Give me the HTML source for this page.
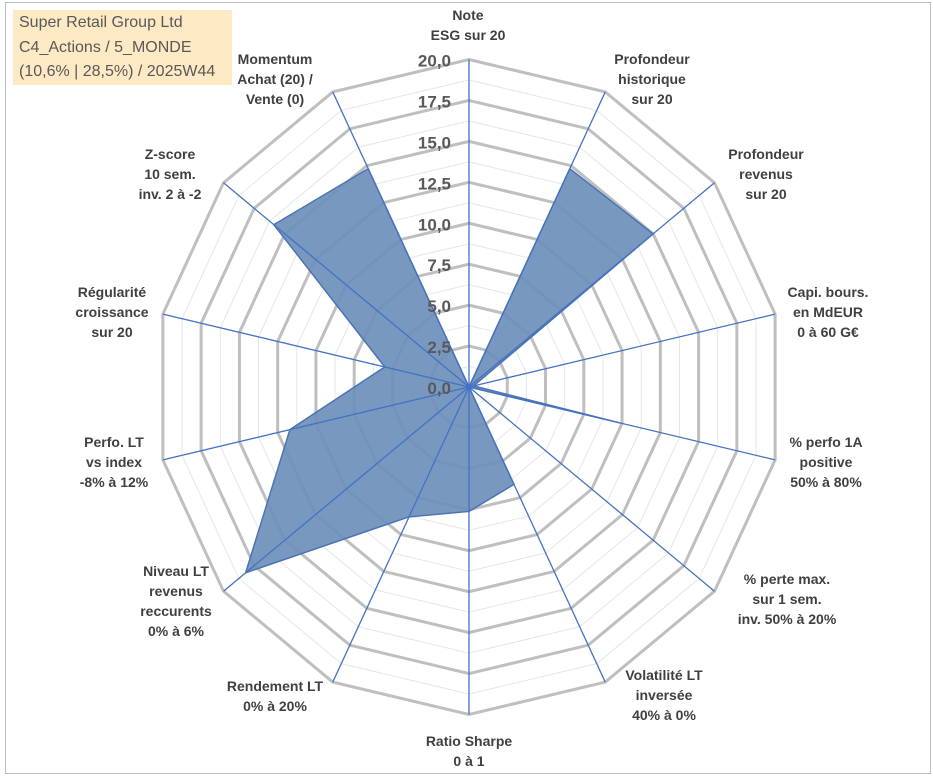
<!DOCTYPE html>
<html><head><meta charset="utf-8"><style>
body{margin:0;background:#fff;}
#wrap{position:relative;width:933px;height:776px;overflow:hidden;font-family:"Liberation Sans",sans-serif;}
#frame{position:absolute;left:5px;top:2px;width:924px;height:770px;border:1px solid #bdbdbd;}
#title{position:absolute;left:13px;top:10px;width:219px;height:75px;background:#fde9c4;color:#595959;font-size:16px;line-height:24.5px;padding-left:6px;box-sizing:border-box;padding-top:1px;}
.lbl{position:absolute;font-weight:bold;font-size:14px;line-height:20px;color:#404040;text-align:center;white-space:nowrap;transform:translate(-50%,0);}
</style></head><body>
<div id="wrap">
<div id="frame"></div>
<svg id="svg" width="933" height="776" style="position:absolute;left:0;top:0"></svg>
<div id="title">Super Retail Group Ltd<br>C4_Actions / 5_MONDE<br>(10,6% | 28,5%) / 2025W44</div>
<div class="lbl" style="left:468px;top:5px">Note<br>ESG sur 20</div>
<div class="lbl" style="left:652px;top:49px">Profondeur<br>historique<br>sur 20</div>
<div class="lbl" style="left:766px;top:144px">Profondeur<br>revenus<br>sur 20</div>
<div class="lbl" style="left:828px;top:282px">Capi. bours.<br>en MdEUR<br>0 à 60 G€</div>
<div class="lbl" style="left:826px;top:432px">% perfo 1A<br>positive<br>50% à 80%</div>
<div class="lbl" style="left:787px;top:569px">% perte max.<br>sur 1 sem.<br>inv. 50% à 20%</div>
<div class="lbl" style="left:664px;top:665px">Volatilité LT<br>inversée<br>40% à 0%</div>
<div class="lbl" style="left:469px;top:731px">Ratio Sharpe<br>0 à 1</div>
<div class="lbl" style="left:275px;top:676px">Rendement LT<br>0% à 20%</div>
<div class="lbl" style="left:176px;top:561px">Niveau LT<br>revenus<br>reccurents<br>0% à 6%</div>
<div class="lbl" style="left:114px;top:432px">Perfo. LT<br>vs index<br>-8% à 12%</div>
<div class="lbl" style="left:112px;top:282px">Régularité<br>croissance<br>sur 20</div>
<div class="lbl" style="left:170px;top:144px">Z-score<br>10 sem.<br>inv. 2 à -2</div>
<div class="lbl" style="left:275px;top:49px">Momentum<br>Achat (20) /<br>Vente (0)</div>
</div>
<script>
const categories=["ESG","Prof hist","Prof rev","Capi","Perfo 1A","Perte max","Volatilite","Sharpe","Rendement","Niveau LT","Perfo LT","Regularite","Z-score","Momentum"];
const values=[0,14.8,15.0,0.3,9.9,0,6.6,7.6,8.8,18.2,11.7,5.5,15.9,14.8];
const tickValues=[0,2.5,5,7.5,10,12.5,15,17.5,20];
const tickLabels=["0,0","2,5","5,0","7,5","10,0","12,5","15,0","17,5","20,0"];
const maxVal=20;
const cx=469,cy=387,Rx=314,Ry=327.5;
const svg=document.getElementById('svg');
const NS='http://www.w3.org/2000/svg';
const n=categories.length;
function pt(i,v){const a=i*2*Math.PI/n;const f=v/maxVal;return [cx+f*Rx*Math.sin(a),cy-f*Ry*Math.cos(a)];}
function poly(v){let s=[];for(let i=0;i<n;i++){s.push(pt(i,v).join(','));}return s.join(' ');}
function mk(tag,attrs){const e=document.createElementNS(NS,tag);for(const k in attrs)e.setAttribute(k,attrs[k]);svg.appendChild(e);return e;}
for(let k=0;k<tickValues.length-1;k++){
  const v=(tickValues[k]+tickValues[k+1])/2;
  const g=mk('polygon',{points:poly(v),fill:'none',stroke:'#e6e6e6','stroke-width':1});
  
  
}
for(let k=1;k<tickValues.length;k++){
  const g=mk('polygon',{points:poly(tickValues[k]),fill:'none',stroke:'#bfbfbf','stroke-width':3});
  
  
}
const area=mk('polygon',{points:values.map((v,i)=>pt(i,v).join(',')).join(' '),fill:'#6d8fbb','fill-opacity':0.92,stroke:'#4a74b4','stroke-width':1.5});


for(let i=0;i<n;i++){
  const p=pt(i,maxVal);
  const l=mk('line',{x1:cx,y1:cy,x2:p[0],y2:p[1],stroke:'#4472c4','stroke-width':1.3});
  
  
}
for(let k=0;k<tickValues.length;k++){
  const y=cy-tickValues[k]/maxVal*Ry;
  const t=mk('text',{x:cx-18,y:y+7,'text-anchor':'end','font-family':'Liberation Sans, sans-serif','font-weight':'bold','font-size':17,fill:'#595959'});
  t.textContent=tickLabels[k];
  
  
}
</script>
</body></html>
